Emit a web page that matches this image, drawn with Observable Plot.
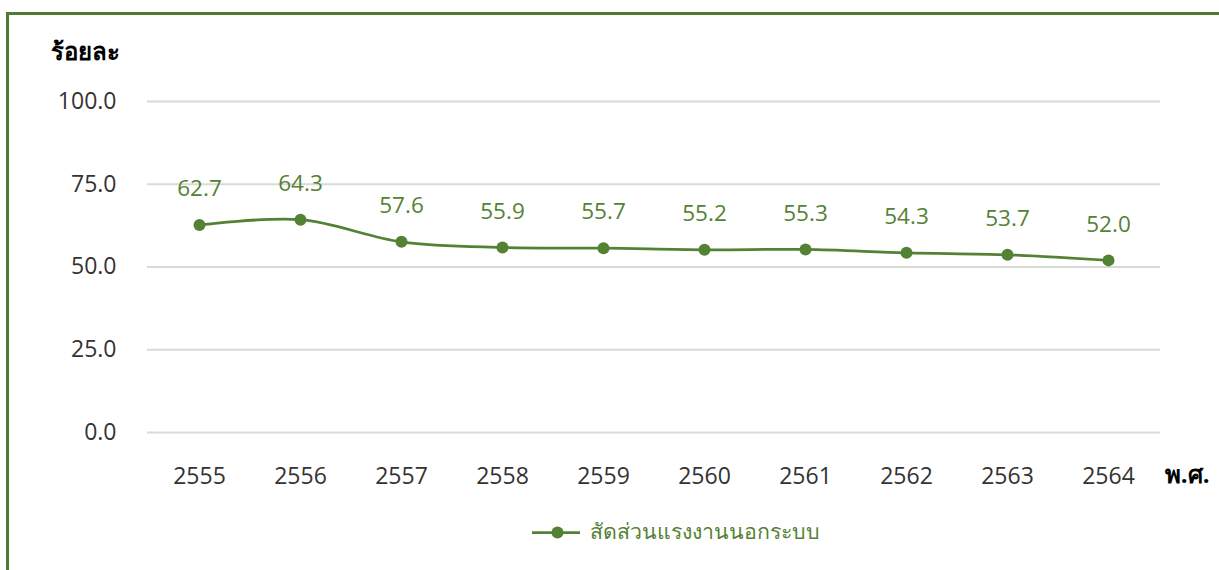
<!DOCTYPE html>
<html><head><meta charset="utf-8">
<script src="https://cdn.jsdelivr.net/npm/d3@7"></script>
<script src="https://cdn.jsdelivr.net/npm/@observablehq/plot@0.6"></script>
<style>
body{margin:0;overflow:hidden;background:#fff;font-family:"Open Sans","Noto Sans",sans-serif;}
#wrap{position:relative;width:1219px;height:570px;overflow:hidden;}
#border{position:absolute;left:6px;top:12px;width:1400px;height:800px;border:3px solid #4f7a33;box-sizing:border-box;pointer-events:none;}
</style></head>
<body><div id="wrap"><div id="border"></div></div>
<script>
const years = ["2555","2556","2557","2558","2559","2560","2561","2562","2563","2564"];
const values = [62.7, 64.3, 57.6, 55.9, 55.7, 55.2, 55.3, 54.3, 53.7, 52.0];
const yTicks = [0, 25, 50, 75, 100];
const seriesName = "สัดส่วนแรงงานนอกระบบ";
const yTitle = "ร้อยละ";
const xTitle = "พ.ศ.";

const data = years.map((y, i) => ({year: y, value: values[i]}));
const green = "#548235";
const font = "'Open Sans','Noto Sans',sans-serif";

const chart = Plot.plot({
  width: 1219, height: 570,
  marginLeft: 147, marginRight: 59, marginTop: 101, marginBottom: 138,
  style: {fontFamily: font, fontSize: "23px", color: "#333", background: "transparent"},
  x: {type: "point", domain: years, padding: 0.5, label: null},
  y: {domain: [0, 100], label: null},
  marks: [
    Plot.ruleY(yTicks, {stroke: "#d9d9d9", strokeWidth: 2}),
    Plot.axisY({ticks: yTicks, tickSize: 0, tickPadding: 31, tickFormat: d => d.toFixed(1), fontSize: 23, fill: "#333"}),
    Plot.axisX({tickSize: 0, tickPadding: 35, fontSize: 23, fill: "#333"}),
    Plot.line(data, {x: "year", y: "value", stroke: green, strokeWidth: 2.75, curve: "catmull-rom"}),
    Plot.dot(data, {x: "year", y: "value", fill: green, r: 6}),
    Plot.text(data, {x: "year", y: "value", text: d => d.value.toFixed(1), dy: -36, fill: green, fontSize: 22.5}),
    Plot.text([yTitle], {frameAnchor: "top-left", dx: -97, dy: -59, fontWeight: "bold", fill: "#000", fontSize: 24}),
    Plot.text([xTitle], {frameAnchor: "bottom-right", dx: 49, dy: 50, fontWeight: "bold", fill: "#000", fontSize: 24})
  ]
});

const wrap = document.getElementById("wrap");
wrap.insertBefore(chart, wrap.firstChild);

// legend as a separate Plot overlay
const legend = Plot.plot({
  width: 1219, height: 60, margin: 0,
  style: {fontFamily: font, background: "transparent"},
  x: {domain: [0, 1219], range: [0, 1219], axis: null},
  y: {domain: [0, 60], range: [0, 60], axis: null},
  marks: [
    Plot.ruleY([30], {x1: 532, x2: 580, stroke: green, strokeWidth: 2.75}),
    Plot.dot([{x: 557, y: 30}], {x: "x", y: "y", fill: green, r: 6}),
    Plot.text([seriesName], {x: 589, y: 30, textAnchor: "start", fill: green, fontSize: 21.3})
  ]
});
legend.style.position = "absolute";
legend.style.left = "0px";
legend.style.top = "502px";
wrap.appendChild(legend);
</script>
</body></html>
